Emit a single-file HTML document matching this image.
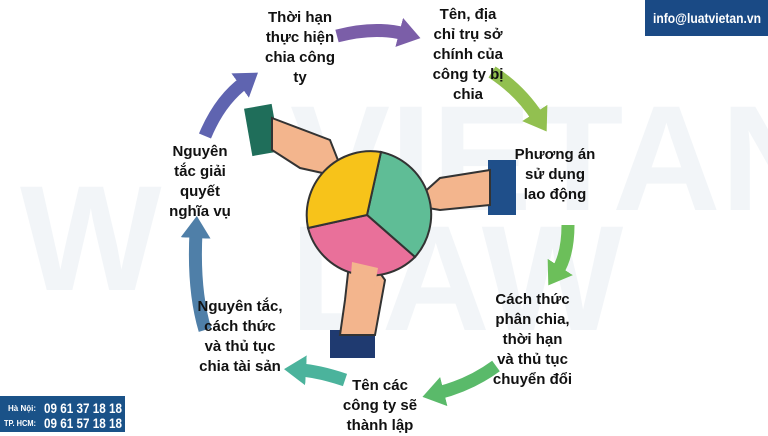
<!DOCTYPE html>
<html><head><meta charset="utf-8"><style>
body{margin:0;width:768px;height:432px;overflow:hidden;background:#fff;font-family:"Liberation Sans",sans-serif}
.t{position:absolute;font-weight:bold;font-size:15px;line-height:20px;color:#111;text-align:center}
</style></head><body>
<svg width="768" height="432" style="position:absolute;left:0;top:0">
<defs>
<marker id="m1" markerUnits="userSpaceOnUse" markerWidth="26" markerHeight="30" refX="6" refY="15" orient="auto"><path d="M0,0 L22,15 L0,30 Z" fill="context-stroke"/></marker>
</defs>
<g opacity="0.05" fill="#1a4f8a" font-weight="bold" font-size="150">
<text x="20" y="290">W</text><text x="290" y="210">VIETAN</text><text x="290" y="330">LAW</text>
</g>
<g fill="none" stroke-width="13">
<path d="M337,36 Q375,26 405,34" stroke="#7b5ea8" marker-end="url(#m1)"/>
<path d="M205,136 Q220,100 245,82" stroke="#5f64b0" marker-end="url(#m1)"/>
<path d="M492,72 Q520,90 538,118" stroke="#92c050" marker-end="url(#m1)"/>
<path d="M568,225 Q568,255 557,272" stroke="#6cbf5a" marker-end="url(#m1)"/>
<path d="M496,366 Q470,385 438,393" stroke="#5aba6a" marker-end="url(#m1)"/>
<path d="M345,380 Q318,371 300,370" stroke="#4bb39c" marker-end="url(#m1)"/>
<path d="M205,330 Q193,290 196,232" stroke="#4f7fa8" marker-end="url(#m1)"/>
</g>
<rect x="248" y="106" width="28" height="48" fill="#1f6e5a" transform="rotate(-10 262 130)"/>
<path d="M272,118 L330,140 L345,178 L300,168 L272,150Z" fill="#f3b58d" stroke="#333" stroke-width="2"/>
<rect x="488" y="160" width="28" height="55" fill="#1f4f8a"/>
<path d="M490,170 L440,178 L410,205 L440,210 L490,205Z" fill="#f3b58d" stroke="#333" stroke-width="2"/>
<rect x="330" y="330" width="45" height="28" fill="#1f3a70"/>
<path d="M350,255 L345,300 L340,335 L375,335 L385,280 L372,262Z" fill="#f3b58d" stroke="#333" stroke-width="2"/>
<g stroke="#333" stroke-width="2">
<path d="M367,215 L381,152 A64,64 0 0,1 415,257 Z" fill="#5fbd96"/>
<path d="M367,215 L415,257 A64,64 0 0,1 308,228 Z" fill="#e9709a"/>
<path d="M367,215 L308,228 A64,64 0 0,1 381,152 Z" fill="#f7c31a"/>
</g>
<path d="M352,262 L349,300 L372,300 L378,268Z" fill="#f3b58d"/>
<rect x="645" y="0" width="123" height="36" fill="#1a4a85"/>
<text x="653" y="23" textLength="108" lengthAdjust="spacingAndGlyphs" fill="#fff" font-weight="bold" font-size="14">info@luatvietan.vn</text>
<rect x="0" y="396" width="125" height="36" fill="#1a5288"/>
<text x="8" y="411" textLength="28" lengthAdjust="spacingAndGlyphs" fill="#fff" font-weight="bold" font-size="8">Hà Nội:</text>
<text x="4" y="426" textLength="32" lengthAdjust="spacingAndGlyphs" fill="#fff" font-weight="bold" font-size="8">TP. HCM:</text>
<text x="44" y="413" textLength="78" lengthAdjust="spacingAndGlyphs" fill="#fff" font-weight="bold" font-size="14">09 61 37 18 18</text>
<text x="44" y="428" textLength="78" lengthAdjust="spacingAndGlyphs" fill="#fff" font-weight="bold" font-size="14">09 61 57 18 18</text>
</svg>
<div class="t" style="left:250px;top:8px;width:100px">Thời hạn<br>thực hiện<br>chia công<br>ty</div>
<div class="t" style="left:418px;top:5px;width:100px">Tên, địa<br>chỉ trụ sở<br>chính của<br>công ty bị<br>chia</div>
<div class="t" style="left:505px;top:145px;width:100px">Phương án<br>sử dụng<br>lao động</div>
<div class="t" style="left:480px;top:290px;width:105px">Cách thức<br>phân chia,<br>thời hạn<br>và thủ tục<br>chuyển đổi</div>
<div class="t" style="left:330px;top:376px;width:100px">Tên các<br>công ty sẽ<br>thành lập</div>
<div class="t" style="left:185px;top:297px;width:110px">Nguyên tắc,<br>cách thức<br>và thủ tục<br>chia tài sản</div>
<div class="t" style="left:155px;top:142px;width:90px">Nguyên<br>tắc giải<br>quyết<br>nghĩa vụ</div>
</body></html>
